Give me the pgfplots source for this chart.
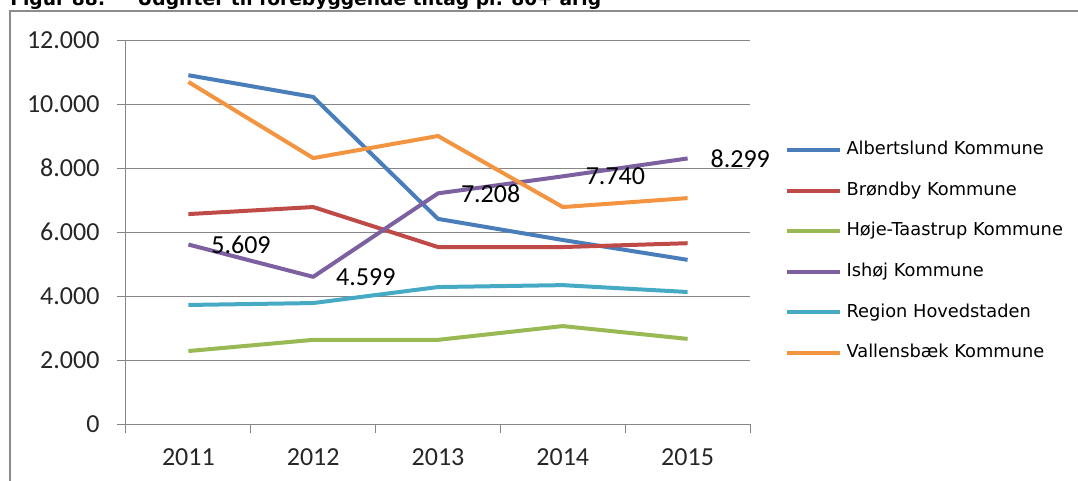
\documentclass[border=0pt]{standalone}
\usepackage{fontspec}
\setmainfont{Carlito}
\newfontfamily\legfont{DejaVu Sans}
\usepackage{pgfplots}
\pgfplotsset{compat=1.18}
\definecolor{cA}{HTML}{4A7EBB}
\definecolor{cB}{HTML}{BE4B48}
\definecolor{cC}{HTML}{98B954}
\definecolor{cD}{HTML}{7D60A0}
\definecolor{cE}{HTML}{46AAC5}
\definecolor{cF}{HTML}{F39440}
\definecolor{axgray}{HTML}{868686}
\definecolor{framegray}{HTML}{8C8C8C}
\begin{document}
\begin{tikzpicture}
\useasboundingbox (0,0) rectangle (808.5pt,-360pt);
\draw[color=framegray, line width=1.8pt] (7.5pt,-380pt) -- (7.5pt,-8.4pt) -- (830pt,-8.4pt);
\node[anchor=base west, inner sep=0pt, font=\legfont\bfseries\fontsize{14}{16}\selectfont] at (7.5pt,-4.3pt) {Figur 88:};
\node[anchor=base west, inner sep=0pt, font=\legfont\bfseries\fontsize{14}{16}\selectfont] at (102.75pt,-4.3pt) {Udgifter til forebyggende tiltag pr. 80+ årig};
\begin{axis}[
  at={(94.5pt,-318pt)}, anchor=south west,
  scale only axis, width=468pt, height=288pt,
  clip=false,
  xmin=2010.5, xmax=2015.5, ymin=0, ymax=12000,
  axis x line*=bottom, axis y line*=left,
  axis line style={color=axgray, line width=0.75pt},
  tick align=outside, major tick length=6.5pt,
  tick style={color=axgray, line width=0.75pt},
  xtick={2010.5,2011.5,2012.5,2013.5,2014.5,2015.5},
  xticklabel=\empty,
  extra x ticks={2011,2012,2013,2014,2015},
  extra x tick labels={2011,2012,2013,2014,2015},
  extra x tick style={major tick length=0pt, grid=none},
  ytick={0,2000,4000,6000,8000,10000,12000},
  ymajorgrids, grid style={color=axgray, line width=0.75pt},
  scaled y ticks=false,
  /pgf/number format/.cd, 1000 sep={.}, assume math mode=true, /pgfplots/.cd,
  tick label style={font=\fontsize{19.5}{22}\selectfont, color=black!85},
  yticklabel style={inner sep=0pt, anchor=east, xshift=-13.25pt},
  xticklabel style={inner sep=0pt, anchor=north, yshift=-18.5pt},
  legend image code/.code={\draw[#1] (0pt,0pt) -- (39.75pt,0pt); \path (43pt,0pt);},
  legend cell align=left,
  legend style={at={(1.056,0.737)}, anchor=north west, draw=none, fill=none, inner sep=0pt,
    font=\legfont\fontsize{13.35}{16}\selectfont, row sep=17.45pt,
    nodes={inner sep=0pt, text height=10pt, text depth=3pt}},
  every axis plot/.append style={line width=3pt, mark=none, line join=round},
]
\addplot[cA] coordinates {(2011,10900) (2012,10220) (2013,6410) (2014,5750) (2015,5130)};
\addlegendentry{Albertslund Kommune}
\addplot[cB] coordinates {(2011,6560) (2012,6780) (2013,5530) (2014,5530) (2015,5650)};
\addlegendentry{Brøndby Kommune}
\addplot[cC] coordinates {(2011,2280) (2012,2630) (2013,2630) (2014,3060) (2015,2660)};
\addlegendentry{Høje-Taastrup Kommune}
\addplot[cD, nodes near coords, point meta=explicit symbolic,
  every node near coord/.append style={anchor=west, xshift=15.75pt, yshift=0pt, inner sep=0pt,
    font=\fontsize{19.5}{22}\selectfont, color=black}]
  coordinates {(2011,5609)[5.609] (2012,4599)[4.599] (2013,7208)[7.208] (2014,7740)[7.740] (2015,8299)[8.299]};
\addlegendentry{Ishøj Kommune}
\addplot[cE] coordinates {(2011,3720) (2012,3780) (2013,4280) (2014,4340) (2015,4125)};
\addlegendentry{Region Hovedstaden}
\addplot[cF] coordinates {(2011,10690) (2012,8310) (2013,9000) (2014,6780) (2015,7060)};
\addlegendentry{Vallensbæk Kommune}
\end{axis}
\end{tikzpicture}
\end{document}
